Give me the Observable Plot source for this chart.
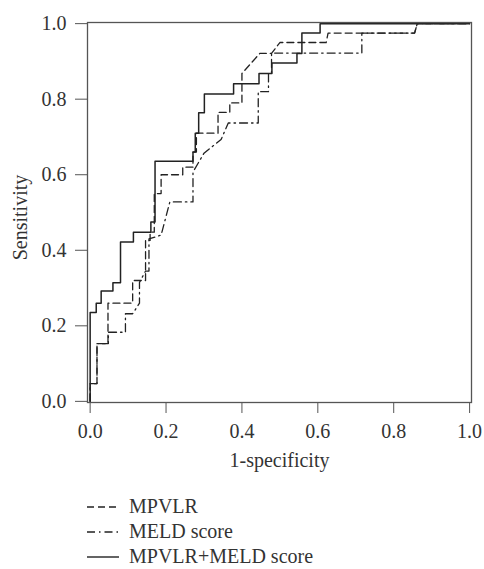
<!DOCTYPE html>
<html>
<head>
<meta charset="utf-8">
<script src="https://cdn.jsdelivr.net/npm/d3@7"></script>
<script src="https://cdn.jsdelivr.net/npm/@observablehq/plot@0.6"></script>
<style>
  html, body { margin: 0; padding: 0; background: #fff; overflow: hidden; }
  #chart { width: 484px; }
  .legend { font-family: "Liberation Serif", "Times New Roman", serif; font-size: 20px; color: #333; padding-left: 87px; }
  .legend .row { height: 25px; display: flex; align-items: center; }
  .legend svg { margin-right: 10px; }
</style>
</head>
<body>
<div id="chart"></div>
<script>
// ---- data ----
const seriesNames = ["MPVLR", "MELD score", "MPVLR+MELD score"];

const mpvlrFpr = [0,0,0.018,0.018,0.047,0.047,0.112,0.112,0.146,0.146,0.158,0.158,0.169,0.169,0.187,0.187,0.244,0.244,0.271,0.271,0.28,0.28,0.337,0.337,0.368,0.368,0.40,0.40,0.447,0.478,0.50,0.622,0.627,0.855,0.862,1];
const mpvlrTpr = [0,0.047,0.047,0.153,0.153,0.26,0.26,0.32,0.32,0.426,0.426,0.448,0.448,0.55,0.55,0.60,0.60,0.62,0.62,0.66,0.66,0.71,0.71,0.765,0.765,0.79,0.79,0.868,0.921,0.921,0.95,0.95,0.975,0.975,1,1];

const meldFpr = [0,0,0.018,0.018,0.048,0.048,0.093,0.093,0.112,0.13,0.13,0.146,0.155,0.155,0.187,0.21,0.271,0.271,0.30,0.345,0.364,0.443,0.443,0.47,0.47,0.478,0.478,0.716,0.716,0.855,0.862,1];
const meldTpr = [0,0.047,0.047,0.153,0.153,0.183,0.183,0.232,0.232,0.26,0.315,0.345,0.345,0.43,0.44,0.528,0.528,0.607,0.657,0.693,0.737,0.737,0.82,0.82,0.868,0.868,0.922,0.922,0.975,0.975,1,1];

const comboFpr = [0,0,0.016,0.016,0.029,0.029,0.06,0.06,0.08,0.08,0.114,0.114,0.16,0.16,0.171,0.171,0.271,0.271,0.277,0.277,0.286,0.286,0.301,0.301,0.378,0.378,0.445,0.445,0.479,0.479,0.545,0.545,0.558,0.558,0.606,0.606,1];
const comboTpr = [0,0.235,0.235,0.26,0.26,0.292,0.292,0.314,0.314,0.422,0.422,0.448,0.448,0.475,0.475,0.636,0.636,0.66,0.66,0.71,0.71,0.764,0.764,0.814,0.814,0.841,0.841,0.868,0.868,0.896,0.896,0.921,0.921,0.975,0.975,1,1];

const xTicks = [0, 0.2, 0.4, 0.6, 0.8, 1.0];
const yTicks = [0, 0.2, 0.4, 0.6, 0.8, 1.0];
const xTitle = "1-specificity";
const yTitle = "Sensitivity";

// ---- build ----
const toRows = (xs, ys) => xs.map((x, i) => ({x, y: ys[i]}));
const mpvlr = toRows(mpvlrFpr, mpvlrTpr);
const meld = toRows(meldFpr, meldTpr);
const combo = toRows(comboFpr, comboTpr);

const lineColor = "#222";
const dashA = "7,4";
const dashB = "8,4,1.5,4";
const fmt = d3.format(".1f");

const chart = Plot.plot({
  width: 484,
  height: 494,
  marginLeft: 87,
  marginRight: 13,
  marginTop: 22,
  marginBottom: 92,
  style: {fontFamily: "'Liberation Serif', 'Times New Roman', serif", fontSize: "20px", color: "#333", background: "#fff"},
  x: {domain: [-0.007, 1.005]},
  y: {domain: [-0.003, 1.003]},
  marks: [
    Plot.axisX({ticks: xTicks, tickFormat: fmt, tickSize: 11, tickPadding: 10, label: null, stroke: "#555", fill: "#333"}),
    Plot.axisY({ticks: yTicks, tickFormat: fmt, tickSize: 12, tickPadding: 9, label: null, stroke: "#555", fill: "#333"}),
    Plot.line(mpvlr, {x: "x", y: "y", stroke: lineColor, strokeWidth: 1.3, strokeDasharray: dashA}),
    Plot.line(meld, {x: "x", y: "y", stroke: lineColor, strokeWidth: 1.3, strokeDasharray: dashB}),
    Plot.line(combo, {x: "x", y: "y", stroke: lineColor, strokeWidth: 1.5}),
    Plot.frame({stroke: "#555", strokeWidth: 1.3}),
    Plot.text([xTitle], {frameAnchor: "bottom", dy: 58, lineAnchor: "middle", text: d => d, fill: "#333"}),
    Plot.text([yTitle], {frameAnchor: "left", rotate: -90, dx: -67, dy: 5, textAnchor: "middle", lineAnchor: "middle", text: d => d, fill: "#333"})
  ]
});
document.getElementById("chart").appendChild(chart);

// ---- legend ----
const legend = document.createElement("div");
legend.className = "legend";
const dashes = [dashA, dashB, null];
seriesNames.forEach((name, i) => {
  const row = document.createElement("div");
  row.className = "row";
  const d = dashes[i] ? `stroke-dasharray="${dashes[i]}"` : "";
  row.innerHTML = `<svg width="32" height="10"><line x1="0" y1="5" x2="32" y2="5" stroke="${lineColor}" stroke-width="1.4" ${d}></line></svg><span>${name}</span>`;
  legend.appendChild(row);
});
document.body.appendChild(legend);
</script>
</body>
</html>
